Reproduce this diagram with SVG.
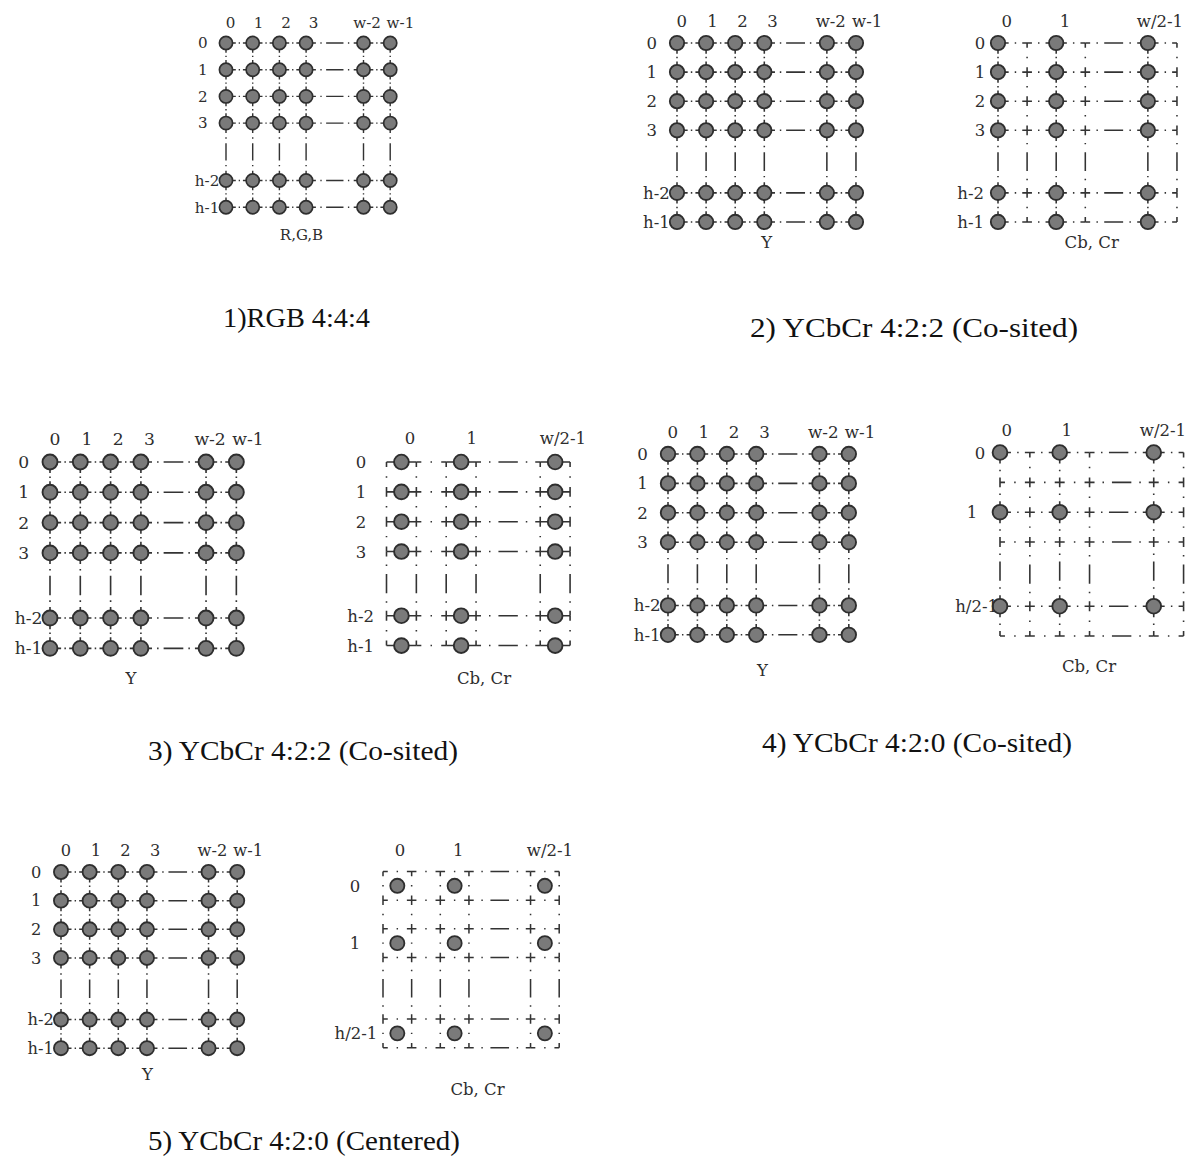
<svg xmlns="http://www.w3.org/2000/svg" width="1190" height="1166" viewBox="0 0 1190 1166">
<style>
.ln{fill:none;stroke:#333;stroke-width:1.6}
.L{stroke-dasharray:22 3.25 1.5 3.25;stroke-dashoffset:11}
.S{stroke-dasharray:10 9.25 1.5 9.25;stroke-dashoffset:5}
.LS{stroke-dasharray:22 6.25 1.5 6.25 10 6.25 1.5 6.25;stroke-dashoffset:11}
.gLL{stroke-dasharray:11 5 1.5 5 19.5 5 1.5 5 11 40}
.gSL{stroke-dasharray:5 6.5 1.5 6.5 19.5 6.5 1.5 6.5 11 40}
.gSS{stroke-dasharray:5 8 1.5 8 19.5 8 1.5 8 5 40}
.dot{fill:#7a7a7a;stroke:#2e2e2e;stroke-width:1.9}
.lb{font-family:"DejaVu Serif",serif;font-size:17px;fill:#2e2e2e;text-anchor:middle}
.lc{font-family:"DejaVu Serif",serif;font-size:16.5px;fill:#2e2e2e;text-anchor:middle}
.end{text-anchor:end}
.tt{font-family:"Liberation Serif",serif;font-size:27px;fill:#111}
</style>
<defs>
<g id="cr6"><circle class="dot" cx="0" cy="0" r="7.4"/><circle class="dot" cx="30" cy="0" r="7.4"/><circle class="dot" cx="60" cy="0" r="7.4"/><circle class="dot" cx="90" cy="0" r="7.4"/><circle class="dot" cx="154.5" cy="0" r="7.4"/><circle class="dot" cx="184.5" cy="0" r="7.4"/></g>
<g id="cr3"><circle class="dot" cx="0" cy="0" r="7.4"/><circle class="dot" cx="60" cy="0" r="7.4"/><circle class="dot" cx="154.5" cy="0" r="7.4"/></g>
<g id="gY">
<path class="ln L" d="M0 0H90M0 30H90M0 60H90M0 90H90M0 154.5H90M0 184.5H90M154.5 0H184.5M154.5 30H184.5M154.5 60H184.5M154.5 90H184.5M154.5 154.5H184.5M154.5 184.5H184.5M0 0V90M30 0V90M60 0V90M90 0V90M154.5 0V90M184.5 0V90M0 154.5V184.5M30 154.5V184.5M60 154.5V184.5M90 154.5V184.5M154.5 154.5V184.5M184.5 154.5V184.5"/>
<path class="ln gLL" d="M90 0H154.5M90 30H154.5M90 60H154.5M90 90H154.5M90 154.5H154.5M90 184.5H154.5M0 90V154.5M30 90V154.5M60 90V154.5M90 90V154.5M154.5 90V154.5M184.5 90V154.5"/>
<use href="#cr6" y="0"/><use href="#cr6" y="30"/><use href="#cr6" y="60"/><use href="#cr6" y="90"/><use href="#cr6" y="154.5"/><use href="#cr6" y="184.5"/>
</g>
<g id="ylab" class="lb">
<text x="5" y="-16.5">0</text><text x="36.5" y="-16.5">1</text><text x="67.5" y="-16.5">2</text><text x="98.5" y="-16.5">3</text><text x="158.5" y="-16.5">w-2</text><text x="196" y="-16.5">w-1</text>
<text x="-26" y="6">0</text><text x="-26" y="36">1</text><text x="-26" y="66">2</text><text x="-26" y="96">3</text><text class="end" x="-7.5" y="160.5">h-2</text><text class="end" x="-7.5" y="190.5">h-1</text>
</g>
<g id="gA">
<path class="ln LS" d="M0 0H90M0 30H90M0 60H90M0 90H90M0 154.5H90M0 184.5H90M154.5 0H184.5M154.5 30H184.5M154.5 60H184.5M154.5 90H184.5M154.5 154.5H184.5M154.5 184.5H184.5"/>
<path class="ln gSL" d="M90 0H154.5M90 30H154.5M90 60H154.5M90 90H154.5M90 154.5H154.5M90 184.5H154.5"/>
<path class="ln L" d="M0 0V90M60 0V90M154.5 0V90M0 154.5V184.5M60 154.5V184.5M154.5 154.5V184.5"/>
<path class="ln gLL" d="M0 90V154.5M60 90V154.5M154.5 90V154.5"/>
<path class="ln S" d="M30 0V90M90 0V90M184.5 0V90M30 154.5V184.5M90 154.5V184.5M184.5 154.5V184.5"/>
<path class="ln gSS" d="M30 90V154.5M90 90V154.5M184.5 90V154.5"/>
<use href="#cr3" y="0"/><use href="#cr3" y="30"/><use href="#cr3" y="60"/><use href="#cr3" y="90"/><use href="#cr3" y="154.5"/><use href="#cr3" y="184.5"/>
</g>
<g id="gB">
<path class="ln" d="M0 0H30M60 0H90M154.5 0H184.5M0 30H30M60 30H90M154.5 30H184.5M0 60H30M60 60H90M154.5 60H184.5M0 90H30M60 90H90M154.5 90H184.5M0 154.5H30M60 154.5H90M154.5 154.5H184.5M0 184.5H30M60 184.5H90M154.5 184.5H184.5"/>
<path class="ln S" d="M30 0H60M30 30H60M30 60H60M30 90H60M30 154.5H60M30 184.5H60M0 0V90M30 0V90M60 0V90M90 0V90M154.5 0V90M184.5 0V90M0 154.5V184.5M30 154.5V184.5M60 154.5V184.5M90 154.5V184.5M154.5 154.5V184.5M184.5 154.5V184.5"/>
<path class="ln gSS" d="M90 0H154.5M90 30H154.5M90 60H154.5M90 90H154.5M90 154.5H154.5M90 184.5H154.5M0 90V154.5M30 90V154.5M60 90V154.5M90 90V154.5M154.5 90V154.5M184.5 90V154.5"/>
<use href="#cr3" x="15" y="0"/><use href="#cr3" x="15" y="30"/><use href="#cr3" x="15" y="60"/><use href="#cr3" x="15" y="90"/><use href="#cr3" x="15" y="154.5"/><use href="#cr3" x="15" y="184.5"/>
</g>
<g id="gC">
<path class="ln LS" d="M0 0H90M0 60H90M0 154.5H90M154.5 0H184.5M154.5 60H184.5M154.5 154.5H184.5M0 0V90M60 0V90M154.5 0V90M0 154.5V184.5M60 154.5V184.5M154.5 154.5V184.5"/>
<path class="ln gSL" d="M90 0H154.5M90 60H154.5M90 154.5H154.5M0 90V154.5M60 90V154.5M154.5 90V154.5"/>
<path class="ln S" d="M0 30H90M0 90H90M0 184.5H90M154.5 30H184.5M154.5 90H184.5M154.5 184.5H184.5M30 0V90M90 0V90M184.5 0V90M30 154.5V184.5M90 154.5V184.5M184.5 154.5V184.5"/>
<path class="ln gSS" d="M90 30H154.5M90 90H154.5M90 184.5H154.5M30 90V154.5M90 90V154.5M184.5 90V154.5"/>
<use href="#cr3" y="0"/><use href="#cr3" y="60"/><use href="#cr3" y="154.5"/>
</g>
<g id="gD">
<path class="ln S" d="M0 0H90M0 30H90M0 60H90M0 90H90M0 154.5H90M0 184.5H90M154.5 0H184.5M154.5 30H184.5M154.5 60H184.5M154.5 90H184.5M154.5 154.5H184.5M154.5 184.5H184.5M0 0V90M30 0V90M60 0V90M90 0V90M154.5 0V90M184.5 0V90M0 154.5V184.5M30 154.5V184.5M60 154.5V184.5M90 154.5V184.5M154.5 154.5V184.5M184.5 154.5V184.5"/>
<path class="ln gSS" d="M90 0H154.5M90 30H154.5M90 60H154.5M90 90H154.5M90 154.5H154.5M90 184.5H154.5M0 90V154.5M30 90V154.5M60 90V154.5M90 90V154.5M154.5 90V154.5M184.5 90V154.5"/>
<use href="#cr3" x="15" y="15"/><use href="#cr3" x="15" y="75"/><use href="#cr3" x="15" y="169.5"/>
</g>
</defs>
<rect width="1190" height="1166" fill="#fff"/>

<g id="p1-rgb">
<g transform="translate(226,43) scale(0.89)"><use href="#gY"/><use href="#ylab"/></g>
<text class="lc" x="301.5" y="240" style="font-size:15px">R,G,B</text>
</g>

<g id="p2-y">
<g transform="translate(677,43) scale(0.97)"><use href="#gY"/><use href="#ylab"/></g>
<text class="lc" x="766.7" y="248">Y</text>
</g>

<g id="p2-cbcr">
<g transform="translate(998,43) scale(0.97)"><use href="#gA"/></g>
<g class="lc">
<text x="1006.7" y="27">0</text><text x="1065" y="27">1</text><text x="1160" y="27">w/2-1</text>
<text x="980" y="49">0</text><text x="980" y="78">1</text><text x="980" y="107">2</text><text x="980" y="136">3</text>
<text class="end" x="984" y="199">h-2</text><text class="end" x="984" y="228">h-1</text>
<text x="1091.7" y="248">Cb, Cr</text>
</g>
</g>

<g id="p3-y">
<g transform="translate(50,462) scale(1.01)"><use href="#gY"/><use href="#ylab"/></g>
<text class="lc" x="131" y="684">Y</text>
</g>

<g id="p3-cbcr">
<g transform="translate(386.5,462) scale(0.995)"><use href="#gB"/></g>
<g class="lc">
<text x="410" y="444">0</text><text x="471.7" y="444">1</text><text x="563" y="444">w/2-1</text>
<text x="361" y="468">0</text><text x="361" y="498">1</text><text x="361" y="527.7">2</text><text x="361" y="557.6">3</text>
<text class="end" x="374" y="621.7">h-2</text><text class="end" x="374" y="651.6">h-1</text>
<text x="484" y="684">Cb, Cr</text>
</g>
</g>

<g id="p4-y">
<g transform="translate(668,454) scale(0.98)"><use href="#gY"/><use href="#ylab"/></g>
<text class="lc" x="762.5" y="676">Y</text>
</g>

<g id="p4-cbcr">
<g transform="translate(1000,452.5) scale(0.995)"><use href="#gC"/></g>
<g class="lc">
<text x="1006.7" y="436">0</text><text x="1066.7" y="436">1</text><text x="1163" y="436">w/2-1</text>
<text x="980" y="458.5">0</text><text x="972" y="518">1</text>
<text class="end" x="998" y="612">h/2-1</text>
<text x="1089" y="671.5">Cb, Cr</text>
</g>
</g>

<g id="p5-y">
<g transform="translate(61,872) scale(0.955)"><use href="#gY"/><use href="#ylab"/></g>
<text class="lc" x="147.5" y="1080">Y</text>
</g>

<g id="p5-cbcr">
<g transform="translate(383,871.5) scale(0.955)"><use href="#gD"/></g>
<g class="lc">
<text x="400" y="856">0</text><text x="458.3" y="856">1</text><text x="550" y="856">w/2-1</text>
<text x="355" y="891.5">0</text><text x="355" y="949">1</text>
<text x="356" y="1039">h/2-1</text>
<text x="477.5" y="1095">Cb, Cr</text>
</g>
</g>

<g id="titles" class="tt">
<text x="223" y="327" textLength="147" lengthAdjust="spacingAndGlyphs">1)RGB 4:4:4</text>
<text x="750" y="337" textLength="328" lengthAdjust="spacingAndGlyphs">2) YCbCr 4:2:2 (Co-sited)</text>
<text x="148" y="760" textLength="310" lengthAdjust="spacingAndGlyphs">3) YCbCr 4:2:2 (Co-sited)</text>
<text x="762" y="752" textLength="310" lengthAdjust="spacingAndGlyphs">4) YCbCr 4:2:0 (Co-sited)</text>
<text x="148" y="1150" textLength="312" lengthAdjust="spacingAndGlyphs">5) YCbCr 4:2:0 (Centered)</text>
</g>
</svg>
